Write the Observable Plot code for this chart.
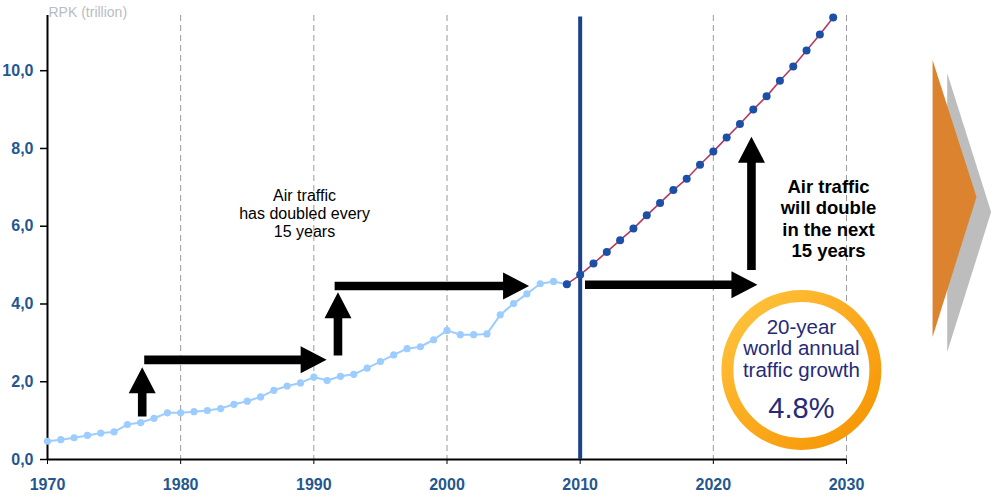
<!DOCTYPE html>
<html>
<head>
<meta charset="utf-8">
<script src="https://cdn.jsdelivr.net/npm/d3@7"></script>
<script src="https://cdn.jsdelivr.net/npm/@observablehq/plot@0.6"></script>
<style>
  html, body { margin: 0; padding: 0; background: #fff; }
  svg { display: block; }
</style>
</head>
<body>
<div id="chart"></div>
<script>
// ---- data ----
const histYears = d3.range(1970, 2010);
const histValues = [0.47,0.51,0.56,0.62,0.68,0.71,0.90,0.95,1.06,1.20,
                    1.20,1.23,1.26,1.31,1.42,1.50,1.61,1.78,1.89,1.97,
                    2.12,2.03,2.14,2.19,2.35,2.52,2.69,2.85,2.90,3.08,
                    3.32,3.21,3.21,3.23,3.72,4.01,4.26,4.52,4.58,4.51];
const fcYears = d3.range(2009, 2030);
const fcValues = [4.51,4.75,5.04,5.34,5.64,5.94,6.28,6.60,6.93,7.22,
                  7.58,7.92,8.28,8.63,9.00,9.34,9.74,10.11,10.52,10.93,11.37];
const xTicks = [1970, 1980, 1990, 2000, 2010, 2020, 2030];
const yTicks = [0, 2, 4, 6, 8, 10];
const gridYears = [1980, 1990, 2000, 2020, 2030];
const dividerYear = [2010];
const yLabel = "RPK (trillion)";
// block arrows: [x1, y1, x2, y2] in data units (tail -> tip)
const arrows = [
  [1977.15, 1.09, 1977.15, 2.36],
  [1977.3, 2.55, 1991.0, 2.55],
  [1991.85, 2.66, 1991.85, 4.29],
  [1991.6, 4.45, 2006.2, 4.45],
  [2010.4, 4.48, 2023.35, 4.48],
  [2022.9, 4.86, 2022.9, 8.29]
];
const noteLeft = {x: 1989.3, y: 6.34, text: "Air traffic\nhas doubled every\n15 years"};
const noteRight = {x: 2028.65, y: 6.21, text: "Air traffic\nwill double\nin the next\n15 years"};
const badge = {x: 2026.65, y: 2.29, lines: ["20-year", "world annual", "traffic growth"], value: "4.8%"};
const chevronOrange = [[2036.5, 10.26], [2039.8, 6.74], [2036.5, 3.14]];
const chevronGray = [[2037.6, 9.92], [2040.9, 6.35], [2037.6, 2.75]];

const hist = histYears.map((y, i) => ({year: y, v: histValues[i]}));
const fc = fcYears.map((y, i) => ({year: y, v: fcValues[i]}));

const axisColor = "#24578f";

function getScales(a, b) {
  return (b && typeof b.x === "function") ? b : a;
}

function arrowsMark(index, s) {
  const sc = getScales(index, s);
  const g = d3.create("svg:g");
  const shaft = 4.3, headW = 13.5, headL = 26;
  for (const [x1, y1, x2, y2] of arrows) {
    const ax = sc.x(x1), ay = sc.y(y1), bx = sc.x(x2), by = sc.y(y2);
    const len = Math.hypot(bx - ax, by - ay);
    const ang = Math.atan2(by - ay, bx - ax) * 180 / Math.PI;
    const pts = [[0, -shaft], [len - headL, -shaft], [len - headL, -headW], [len, 0],
                 [len - headL, headW], [len - headL, shaft], [0, shaft]];
    g.append("path")
      .attr("d", "M" + pts.map(p => p.join(",")).join("L") + "Z")
      .attr("fill", "#000")
      .attr("transform", `translate(${ax},${ay}) rotate(${ang})`);
  }
  return g.node();
}

function decorMark(index, s) {
  const sc = getScales(index, s);
  const g = d3.create("svg:g");
  const defs = g.append("defs");
  const grad = defs.append("linearGradient").attr("id", "ringGrad")
    .attr("x1", "0").attr("y1", "0").attr("x2", "1").attr("y2", "1");
  grad.append("stop").attr("offset", "0").attr("stop-color", "#ffc640");
  grad.append("stop").attr("offset", "0.5").attr("stop-color", "#fbaa1e");
  grad.append("stop").attr("offset", "1").attr("stop-color", "#f59400");
  // chevrons
  const poly = pts => "M" + pts.map(([a, b]) => `${sc.x(a)},${sc.y(b)}`).join("L") + "Z";
  g.append("path").attr("d", poly(chevronGray)).attr("fill", "#bdbdbd");
  g.append("path").attr("d", poly(chevronOrange)).attr("fill", "#db832e");
  // badge
  const cx = sc.x(badge.x), cy = sc.y(badge.y);
  g.append("circle").attr("cx", cx).attr("cy", cy).attr("r", 74)
    .attr("fill", "#fff").attr("stroke", "url(#ringGrad)").attr("stroke-width", 12);
  const t = g.append("text").attr("text-anchor", "middle")
    .attr("font-family", "Liberation Sans, Arial, sans-serif")
    .attr("fill", "#262a78");
  badge.lines.forEach((line, i) => {
    t.append("tspan").attr("x", cx).attr("y", cy - 42 + i * 21.5 + 6)
      .attr("font-size", 20.5).text(line);
  });
  g.append("text").attr("text-anchor", "middle")
    .attr("font-family", "Liberation Sans, Arial, sans-serif")
    .attr("fill", "#262a78").attr("font-size", 29)
    .attr("x", cx).attr("y", cy + 48).text(badge.value);
  return g.node();
}

const chart = Plot.plot({
  width: 1000,
  height: 500,
  marginLeft: 47,
  marginRight: 154,
  marginTop: 15,
  marginBottom: 41,
  style: {fontFamily: "Liberation Sans, Arial, sans-serif", background: "#fff", overflow: "visible"},
  x: {domain: [1970, 2030]},
  y: {domain: [0, 11.42]},
  marks: [
    Plot.ruleX(gridYears, {stroke: "#9a9a9a", strokeWidth: 1, strokeDasharray: "6,4"}),
    Plot.axisX({ticks: xTicks, tickFormat: d => String(d), tickSize: 5, tickPadding: 14,
      fontSize: 16, fontWeight: "bold", fill: axisColor, stroke: "#000", label: null}),
    Plot.axisY({ticks: yTicks, tickFormat: d => d.toFixed(1).replace(".", ","), tickSize: 7, tickPadding: 7,
      fontSize: 16, fontWeight: "bold", fill: axisColor, stroke: "#000", strokeWidth: 1.5, label: null}),
    Plot.ruleX([1970], {stroke: "#000", strokeWidth: 2}),
    Plot.ruleY([0], {stroke: "#000", strokeWidth: 2}),
    Plot.text([yLabel], {frameAnchor: "top-left", textAnchor: "start", lineAnchor: "middle", dy: -3, dx: 1,
      fill: "#b8bcc4", fontSize: 14}),
    Plot.ruleX(dividerYear, {stroke: "#1d4289", strokeWidth: 4, y1: 0, y2: 11.38}),
    Plot.line(hist, {x: "year", y: "v", stroke: "#9dccff", strokeWidth: 2}),
    Plot.dot(hist, {x: "year", y: "v", fill: "#9dccff", r: 3.6}),
    Plot.line(fc, {x: "year", y: "v", stroke: "#b8395f", strokeWidth: 1.6}),
    Plot.dot(fc, {x: "year", y: "v", fill: "#1b4fa8", r: 4}),
    arrowsMark,
    Plot.text([noteLeft], {x: "x", y: "y", text: "text", fontSize: 16, lineHeight: 1.15, fill: "#000"}),
    Plot.text([noteRight], {x: "x", y: "y", text: "text", fontSize: 18.5, fontWeight: "bold", lineHeight: 1.17, fill: "#000"}),
    decorMark
  ]
});
document.getElementById("chart").appendChild(chart);
</script>
</body>
</html>
